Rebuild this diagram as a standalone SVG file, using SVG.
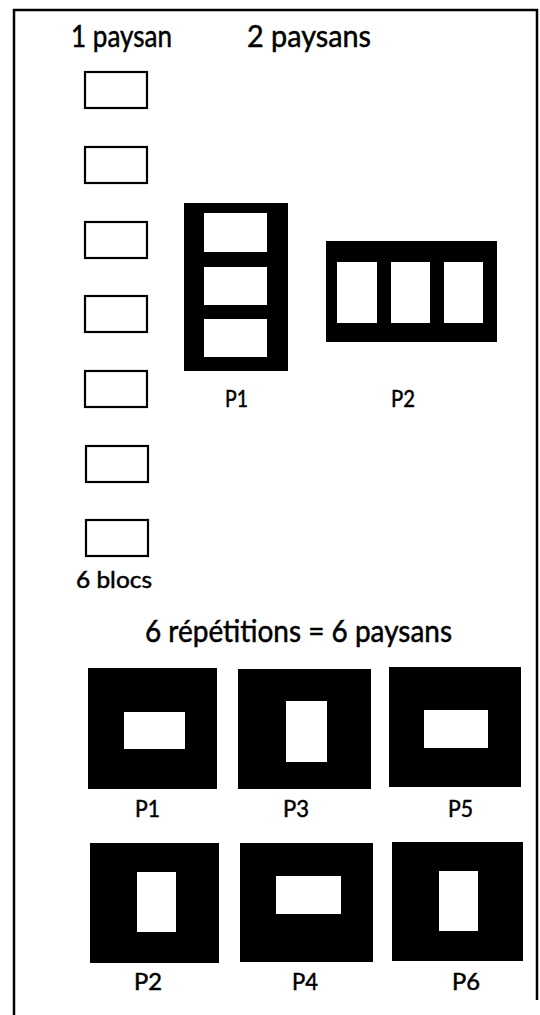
<svg xmlns="http://www.w3.org/2000/svg" width="540" height="1015" viewBox="0 0 540 1015">
<style>
text{font-family:Lato,"Liberation Sans",sans-serif;fill:#000;stroke:#000;stroke-width:0.5}
.t{font-size:30px}
.l{font-size:23px}
.blk{fill:#000}
.wh{fill:#fff}
.sb{fill:#fff;stroke:#000;stroke-width:2.2}
</style>
<rect width="540" height="1015" fill="#fff"/>
<path d="M14,1015 V10 H537 V1000" fill="none" stroke="#000" stroke-width="2.5"/>
<g id="titles">
<text class="t" x="71" y="47" textLength="101" lengthAdjust="spacingAndGlyphs">1 paysan</text>
<text class="t" x="247" y="47" textLength="124" lengthAdjust="spacingAndGlyphs">2 paysans</text>
</g>
<g id="blocs">
<rect class="sb" x="85" y="72" width="62" height="36"/>
<rect class="sb" x="85" y="147" width="62" height="36"/>
<rect class="sb" x="85" y="222" width="62" height="36"/>
<rect class="sb" x="85" y="296" width="62" height="36"/>
<rect class="sb" x="85" y="371" width="62" height="36"/>
<rect class="sb" x="86" y="446" width="62" height="36"/>
<rect class="sb" x="86" y="520" width="62" height="36"/>
<text x="76" y="588" font-size="23" textLength="76" lengthAdjust="spacingAndGlyphs">6 blocs</text>
</g>
<g id="p1-vertical">
<rect class="blk" x="184" y="203" width="104" height="168"/>
<rect class="wh" x="204" y="213" width="63" height="39"/>
<rect class="wh" x="204" y="267" width="63" height="38"/>
<rect class="wh" x="204" y="319" width="63" height="38"/>
<text class="l" x="225" y="407" textLength="23" lengthAdjust="spacingAndGlyphs">P1</text>
</g>
<g id="p2-horizontal">
<rect class="blk" x="326" y="241" width="171" height="101"/>
<rect class="wh" x="337" y="262" width="40" height="61"/>
<rect class="wh" x="391" y="262" width="39" height="61"/>
<rect class="wh" x="444" y="262" width="39" height="61"/>
<text class="l" x="391" y="407" textLength="24" lengthAdjust="spacingAndGlyphs">P2</text>
</g>
<text class="t" x="145" y="642" textLength="307" lengthAdjust="spacingAndGlyphs">6 répétitions = 6 paysans</text>
<g id="rep-p1">
<rect class="blk" x="88" y="668" width="129" height="121"/>
<rect class="wh" x="124" y="712" width="61" height="37"/>
<text class="l" x="135" y="817" textLength="25" lengthAdjust="spacingAndGlyphs">P1</text>
</g>
<g id="rep-p3">
<rect class="blk" x="238" y="669" width="133" height="120"/>
<rect class="wh" x="286" y="701" width="41" height="61"/>
<text class="l" x="283" y="817" textLength="26" lengthAdjust="spacingAndGlyphs">P3</text>
</g>
<g id="rep-p5">
<rect class="blk" x="389" y="667" width="132" height="120"/>
<rect class="wh" x="424" y="710" width="64" height="38"/>
<text class="l" x="448" y="817" textLength="25" lengthAdjust="spacingAndGlyphs">P5</text>
</g>
<g id="rep-p2">
<rect class="blk" x="90" y="843" width="129" height="120"/>
<rect class="wh" x="137" y="872" width="39" height="60"/>
<text class="l" x="134" y="990" textLength="28" lengthAdjust="spacingAndGlyphs">P2</text>
</g>
<g id="rep-p4">
<rect class="blk" x="240" y="843" width="133" height="119"/>
<rect class="wh" x="276" y="876" width="65" height="38"/>
<text class="l" x="292" y="990" textLength="26" lengthAdjust="spacingAndGlyphs">P4</text>
</g>
<g id="rep-p6">
<rect class="blk" x="392" y="842" width="131" height="119"/>
<rect class="wh" x="439" y="871" width="39" height="60"/>
<text class="l" x="452" y="990" textLength="28" lengthAdjust="spacingAndGlyphs">P6</text>
</g>
</svg>
